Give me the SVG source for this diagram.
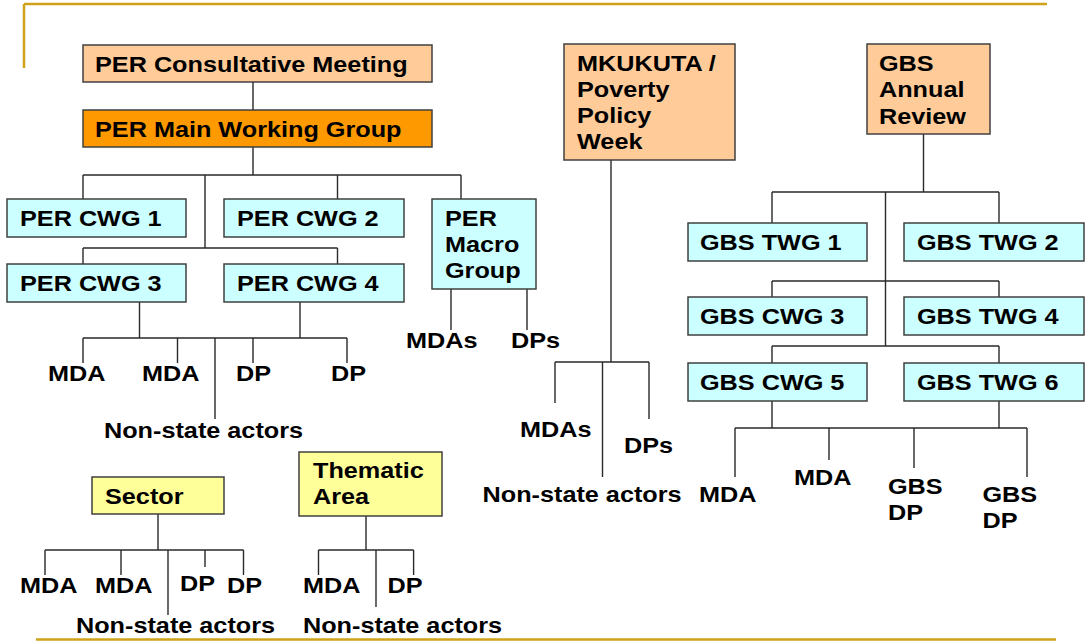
<svg xmlns="http://www.w3.org/2000/svg" width="1085" height="641" viewBox="0 0 1085 641">
<style>
text{font-family:"Liberation Sans",Arial,sans-serif;font-weight:bold;font-size:21.3px;fill:#000;transform-box:fill-box;transform-origin:0% 50%;transform:scaleX(1.185)}
.box{stroke:#404040;stroke-width:1.5}
.lo{fill:#FFCC99}.or{fill:#FF9900}.cy{fill:#CCFFFF}.ye{fill:#FFFF99}
#connectors path{fill:none;stroke:#2a2a2a;stroke-width:1.4}
.gold{fill:none;stroke:#CFA21A;stroke-width:2.5}
</style>
<g id="frame">
<path class="gold" d="M24,4 H1047 M24,4 V68"/>
<path class="gold" d="M36,639.5 H1056"/>
</g>
<g id="connectors">
<path d="M253,82 V110 M253,147 V175 M83,175 H461 M83,175 V199 M337.5,175 V199 M461,175 V199 M205,175 V248 M83,248 H337.5 M83,248 V264 M337.5,248 V264"/>
<path d="M139.5,302 V338 M300,302 V338 M83,338 H347 M83,338 V363 M177.5,338 V363 M215,338 V419 M253,338 V363 M347,338 V363"/>
<path d="M451,289 V330 M527,289 V330"/>
<path d="M158,514 V550 M45,550 H243.5 M45,550 V575 M121,550 V575 M168,550 V615 M205,550 V567 M243.5,550 V575"/>
<path d="M366,516 V550 M318.5,550 H413.6 M318.5,550 V575 M376,550 V607 M413.6,550 V575"/>
<path d="M611,160 V362 M555,362 H649 M555,362 V403 M602.5,362 V477 M649,362 V419"/>
<path d="M923.5,134 V192 M772,192 H999 M772,192 V223 M999,192 V223 M885.5,192 V346 M772,281 H999 M772,281 V297 M999,281 V297 M772,346 H999 M772,346 V363 M999,346 V363"/>
<path d="M772,401 V428 M999,401 V428 M735,428 H1027 M735,428 V477 M829,428 V460 M914,428 V468 M1027,428 V477"/>
</g>
<g id="per-cm"><rect class="box lo" x="83" y="45" width="349" height="37"/><text x="95" y="72">PER Consultative Meeting</text></g>
<g id="per-mwg"><rect class="box or" x="83" y="110" width="349" height="37"/><text x="95" y="137">PER Main Working Group</text></g>
<g id="per-cwg1"><rect class="box cy" x="7" y="199" width="179" height="38"/><text x="20" y="226.5">PER CWG 1</text></g>
<g id="per-cwg2"><rect class="box cy" x="224" y="199" width="180" height="38"/><text x="237" y="226.5">PER CWG 2</text></g>
<g id="per-macro"><rect class="box cy" x="432" y="199" width="104" height="90"/><text x="445" y="226">PER</text><text x="445" y="252">Macro</text><text x="445" y="278">Group</text></g>
<g id="per-cwg3"><rect class="box cy" x="7" y="264" width="179" height="38"/><text x="20" y="291.5">PER CWG 3</text></g>
<g id="per-cwg4"><rect class="box cy" x="224" y="264" width="180" height="38"/><text x="237" y="291.5">PER CWG 4</text></g>
<g id="per-leaves">
<text x="48" y="381">MDA</text><text x="142" y="381">MDA</text><text x="236" y="381">DP</text><text x="331" y="381">DP</text>
<text x="104" y="438">Non-state actors</text>
<text x="406" y="348">MDAs</text><text x="511" y="348">DPs</text>
</g>
<g id="sector"><rect class="box ye" x="92" y="477" width="132" height="37"/><text x="105" y="504">Sector</text></g>
<g id="sector-leaves">
<text x="20" y="593">MDA</text><text x="95" y="593">MDA</text><text x="180" y="591">DP</text><text x="227" y="593">DP</text>
<text x="76" y="633">Non-state actors</text>
</g>
<g id="thematic"><rect class="box ye" x="299" y="452" width="143" height="64"/><text x="313" y="478">Thematic</text><text x="313" y="504">Area</text></g>
<g id="thematic-leaves">
<text x="303" y="593">MDA</text><text x="387.5" y="593">DP</text>
<text x="303" y="633">Non-state actors</text>
</g>
<g id="mkukuta"><rect class="box lo" x="564" y="44" width="171" height="116"/><text x="577" y="71">MKUKUTA /</text><text x="577" y="97">Poverty</text><text x="577" y="123">Policy</text><text x="577" y="149">Week</text></g>
<g id="mkukuta-leaves">
<text x="520" y="437">MDAs</text><text x="624" y="453">DPs</text>
<text x="482.5" y="502">Non-state actors</text>
</g>
<g id="gbs-ar"><rect class="box lo" x="867" y="44" width="123" height="90"/><text x="879" y="71">GBS</text><text x="879" y="97">Annual</text><text x="879" y="124">Review</text></g>
<g id="gbs-twg1"><rect class="box cy" x="688" y="223" width="179" height="38"/><text x="700" y="250.5">GBS TWG 1</text></g>
<g id="gbs-twg2"><rect class="box cy" x="904" y="223" width="180" height="38"/><text x="917" y="250.5">GBS TWG 2</text></g>
<g id="gbs-cwg3"><rect class="box cy" x="688" y="297" width="179" height="38"/><text x="700" y="324">GBS CWG 3</text></g>
<g id="gbs-twg4"><rect class="box cy" x="904" y="297" width="180" height="38"/><text x="917" y="324">GBS TWG 4</text></g>
<g id="gbs-cwg5"><rect class="box cy" x="688" y="363" width="179" height="38"/><text x="700" y="390">GBS CWG 5</text></g>
<g id="gbs-twg6"><rect class="box cy" x="904" y="363" width="180" height="38"/><text x="917" y="390">GBS TWG 6</text></g>
<g id="gbs-leaves">
<text x="699" y="502">MDA</text><text x="794" y="485">MDA</text>
<text x="888" y="494">GBS</text><text x="888" y="520">DP</text>
<text x="982.5" y="502">GBS</text><text x="982.5" y="528">DP</text>
</g>
</svg>
